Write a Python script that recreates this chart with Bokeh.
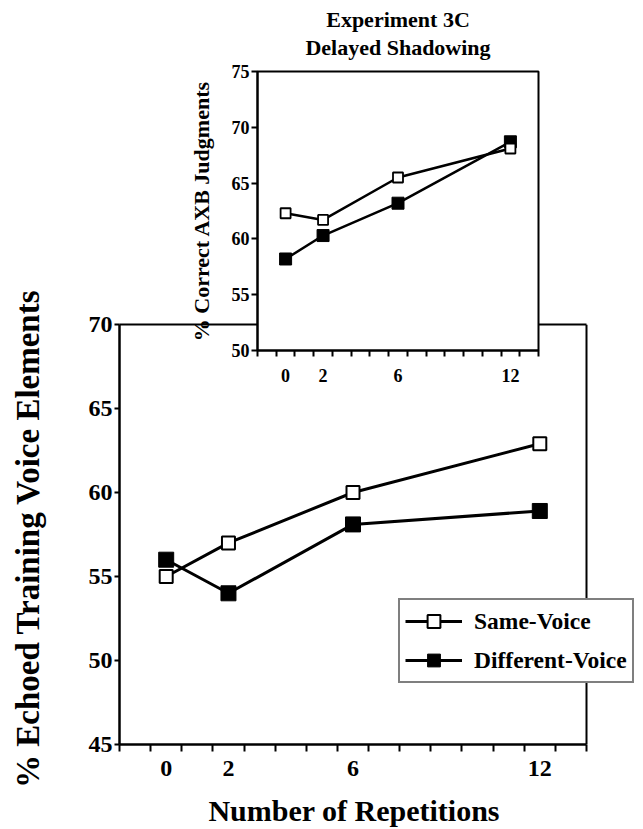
from bokeh.plotting import figure
from bokeh.models import Range1d, FixedTicker, Legend, LegendItem, Title, LinearAxis, Span
from bokeh.layouts import column
from bokeh.embed import file_html
from bokeh.resources import INLINE

# ---------------- data ----------------
reps = [0, 2, 6, 12]
rep_labels = ["0", "2", "6", "12"]
same_main = [55.0, 57.0, 60.0, 62.9]
diff_main = [56.0, 54.0, 58.1, 58.9]
same_inset = [62.3, 61.7, 65.5, 68.1]
diff_inset = [58.2, 60.3, 63.2, 68.7]
main_yticks = [45, 50, 55, 60, 65, 70]
inset_yticks = [50, 55, 60, 65, 70, 75]
half_ticks = [-1.5, -0.5, 0.5, 1.5, 2.5, 3.5, 4.5, 5.5, 6.5, 7.5, 8.5, 9.5, 10.5, 11.5, 12.5, 13.5]

FONT = "Liberation Serif"
X0, X1 = -1.5, 13.5
NBSP = "\u00a0"


def style_axes(fig, tick_font, label_font, yticks, ytick_out, xtick_out, xstandoff, lw):
    fig.xgrid.visible = False
    fig.ygrid.visible = False
    for ax in (fig.xaxis[0], fig.yaxis[0]):
        ax.axis_line_color = "black"
        ax.axis_line_width = lw
        ax.major_label_text_font = FONT
        ax.major_label_text_font_style = "bold"
        ax.major_label_text_font_size = tick_font
        ax.major_label_text_color = "black"
        ax.axis_label_text_font = FONT
        ax.axis_label_text_font_style = "bold"
        ax.axis_label_text_font_size = label_font
        ax.axis_label_text_color = "black"
    xa = fig.xaxis[0]
    xa.ticker = FixedTicker(ticks=reps, minor_ticks=half_ticks)
    xa.major_label_overrides = {r: l for r, l in zip(reps, rep_labels)}
    xa.major_tick_line_color = None
    xa.major_tick_out = 0
    xa.major_tick_in = 0
    xa.minor_tick_line_color = "black"
    xa.minor_tick_line_width = 2
    xa.minor_tick_out = xtick_out
    xa.minor_tick_in = 0
    xa.major_label_standoff = xstandoff
    ya = fig.yaxis[0]
    ya.ticker = FixedTicker(ticks=yticks)
    ya.major_tick_line_width = 2
    ya.major_tick_out = ytick_out
    ya.major_tick_in = 0
    ya.minor_tick_line_color = None
    ya.major_label_standoff = 2


# Both figures share the same left/right border widths, because a column
# aligns the frames of its plots.
BL, BR = 119, 2

# ---------------- main chart ----------------
MAIN_W, MAIN_H = 643, 829
BT, BB = 324, 85
frame_w = MAIN_W - BL - BR
x_end = X0 + (X1 - X0) * frame_w / 467.0
p = figure(width=MAIN_W, height=MAIN_H,
           x_range=Range1d(X0, x_end), y_range=Range1d(45, 70),
           output_backend="svg", toolbar_location=None, min_border=0,
           min_border_left=BL, min_border_right=BR,
           min_border_top=BT, min_border_bottom=BB)
p.background_fill_color = "white"
p.border_fill_color = "white"
p.outline_line_color = None
style_axes(p, "24px", "30px", main_yticks, 5, 7, 9, 2.5)
p.xaxis.bounds = (X0, X1)
# trailing no-break spaces keep the title centred under the 0..13.5 axis
p.xaxis.axis_label = "Number of Repetitions" + NBSP * 7
p.xaxis.axis_label_standoff = 15
p.yaxis.axis_label = "% Echoed Training Voice Elements" + NBSP
p.yaxis.axis_label_text_font_size = "33px"
p.yaxis.axis_label_standoff = 40

top_axis = LinearAxis(bounds=(X0, X1), ticker=FixedTicker(ticks=[]),
                      major_label_text_font_size="0px", axis_line_width=2,
                      major_tick_line_color=None, minor_tick_line_color=None)
p.add_layout(top_axis, "above")
p.add_layout(Span(location=X1, dimension="height", line_color="black", line_width=2))

ls = p.line(reps, same_main, line_color="black", line_width=3)
ld = p.line(reps, diff_main, line_color="black", line_width=3)
sd = p.scatter(reps, diff_main, marker="square", size=15,
               fill_color="black", line_color="black", line_width=1)
ss = p.scatter(reps, same_main, marker="square", size=13,
               fill_color="white", line_color="black", line_width=2)

legend = Legend(items=[LegendItem(label="Same-Voice", renderers=[ls, ss]),
                       LegendItem(label="Different-Voice", renderers=[ld, sd])],
                location=(279, 61))
legend.margin = 0
legend.padding = 5
legend.spacing = 7
legend.glyph_width = 57
legend.glyph_height = 32
legend.label_height = 30
legend.label_standoff = 12
legend.border_line_color = "black"
legend.border_line_width = 2
legend.background_fill_color = "white"
legend.background_fill_alpha = 1
legend.label_text_font = FONT
legend.label_text_font_style = "bold"
legend.label_text_font_size = "23.5px"
legend.label_text_color = "black"
p.add_layout(legend, "center")

# ---------------- inset chart ----------------
IN_FRAME_L, IN_FRAME_R = 257, 538
IN_L = IN_FRAME_L - BL
IN_W = IN_FRAME_R + BR - IN_L
IN_H = 390
q = figure(width=IN_W, height=IN_H,
           x_range=Range1d(X0, X1), y_range=Range1d(50, 75),
           output_backend="svg", toolbar_location=None, min_border=0,
           min_border_left=BL, min_border_right=BR,
           min_border_top=71, min_border_bottom=40)
q.background_fill_color = "white"
q.border_fill_color = None
q.outline_line_color = "black"
q.outline_line_width = 2
style_axes(q, "18px", "22px", inset_yticks, 6, 6, 12, 2)
q.yaxis.axis_label = "% Correct AXB Judgments"
q.yaxis.axis_label_standoff = 15
try:
    q.yaxis.axis_label_background_fill_color = "white"
except Exception:
    pass

q.line(reps, same_inset, line_color="black", line_width=2.5)
q.line(reps, diff_inset, line_color="black", line_width=2.5)
q.scatter(reps, diff_inset, marker="square", size=12,
          fill_color="black", line_color="black", line_width=1)
q.scatter(reps, same_inset, marker="square", size=10,
          fill_color="white", line_color="black", line_width=1.8)

t_lower = Title(text="Delayed Shadowing", align="center", text_font=FONT,
                text_font_style="bold", text_font_size="22px", text_color="black",
                standoff=23.6)
t_upper = Title(text="Experiment 3C", align="center", text_font=FONT,
                text_font_style="bold", text_font_size="22px", text_color="black")
try:
    t_upper.standoff = -22.4
except Exception:
    t_upper.standoff = 0
q.add_layout(t_lower, "above")
q.add_layout(t_upper, "above")

# overlay the inset on top of the main chart
p.margin = (0, 0, 0, 0)
q.margin = (-MAIN_H, 0, MAIN_H - IN_H, IN_L)
layout = column(p, q, spacing=0)

open("out.html", "w").write(file_html(layout, INLINE))
